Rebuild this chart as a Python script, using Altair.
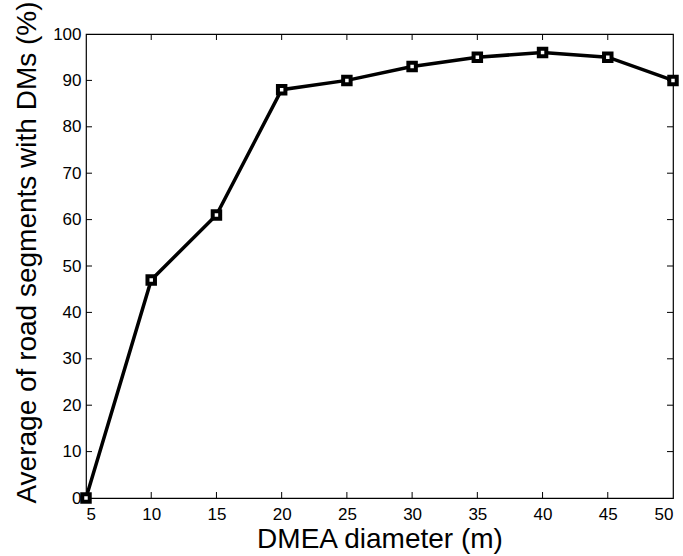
import altair as alt
import pandas as pd

diameters = [5, 10, 15, 20, 25, 30, 35, 40, 45, 50]
averages = [0, 47, 61, 88, 90, 93, 95, 96, 95, 90]
x_ticks = [10, 15, 20, 25, 30, 35, 40, 45]
y_ticks = [10, 20, 30, 40, 50, 60, 70, 80, 90]

W, H = 587, 464
TICK = 6
FONT = "Liberation Sans"

df = pd.DataFrame({"d": diameters, "avg": averages})
dfx = pd.DataFrame({"t": x_ticks})
dfy = pd.DataFrame({"t": y_ticks})

xscale = alt.Scale(domain=[5, 50], nice=False, zero=False)
yscale = alt.Scale(domain=[0, 100], nice=False, zero=False)

xaxis = alt.Axis(
    values=diameters, tickSize=0, domain=False, grid=False,
    labelFontSize=17, labelColor="black", labelFont=FONT, labelPadding=8,
    title="DMEA diameter (m)", titleFontSize=28, titleFont=FONT,
    titleFontWeight="normal", titleColor="black",
    titleY=49, titleBaseline="alphabetic",
)
yaxis = alt.Axis(
    values=[0, 10, 20, 30, 40, 50, 60, 70, 80, 90, 100], tickSize=0,
    domain=False, grid=False,
    labelFontSize=17, labelColor="black", labelFont=FONT, labelPadding=5,
    title="Average of road segments with DMs (%)", titleFontSize=28,
    titleFont=FONT, titleFontWeight="normal", titleColor="black",
    titleAngle=-90, titleX=-59, titleY=218, titleAlign="center",
    titleBaseline="middle",
)

base = alt.Chart(df)
line = base.mark_line(color="black", strokeWidth=3.5).encode(
    x=alt.X("d:Q", scale=xscale, axis=xaxis),
    y=alt.Y("avg:Q", scale=yscale, axis=yaxis),
)
pts = base.mark_point(
    shape="square", size=56, filled=False, fill="white", fillOpacity=1,
    stroke="black", strokeWidth=4, opacity=1
).encode(
    x=alt.X("d:Q", scale=xscale),
    y=alt.Y("avg:Q", scale=yscale),
)

tb = alt.Chart(dfx).mark_rule(color="black", strokeWidth=1).encode(
    x=alt.X("t:Q", scale=xscale), y=alt.value(H), y2=alt.value(H - TICK))
tt = alt.Chart(dfx).mark_rule(color="black", strokeWidth=1).encode(
    x=alt.X("t:Q", scale=xscale), y=alt.value(0), y2=alt.value(TICK))
tl = alt.Chart(dfy).mark_rule(color="black", strokeWidth=1).encode(
    y=alt.Y("t:Q", scale=yscale), x=alt.value(0), x2=alt.value(TICK))
tr = alt.Chart(dfy).mark_rule(color="black", strokeWidth=1).encode(
    y=alt.Y("t:Q", scale=yscale), x=alt.value(W), x2=alt.value(W - TICK))

chart = alt.layer(tb, tt, tl, tr, line, pts).properties(
    width=W, height=H,
    autosize=alt.AutoSizeParams(type="none"),
    padding={"left": 86, "top": 34, "right": 10, "bottom": 58},
    background="white",
).configure_view(stroke="black", strokeWidth=1.2)

chart.save("out.html", embed_options={"renderer": "svg", "actions": False})
